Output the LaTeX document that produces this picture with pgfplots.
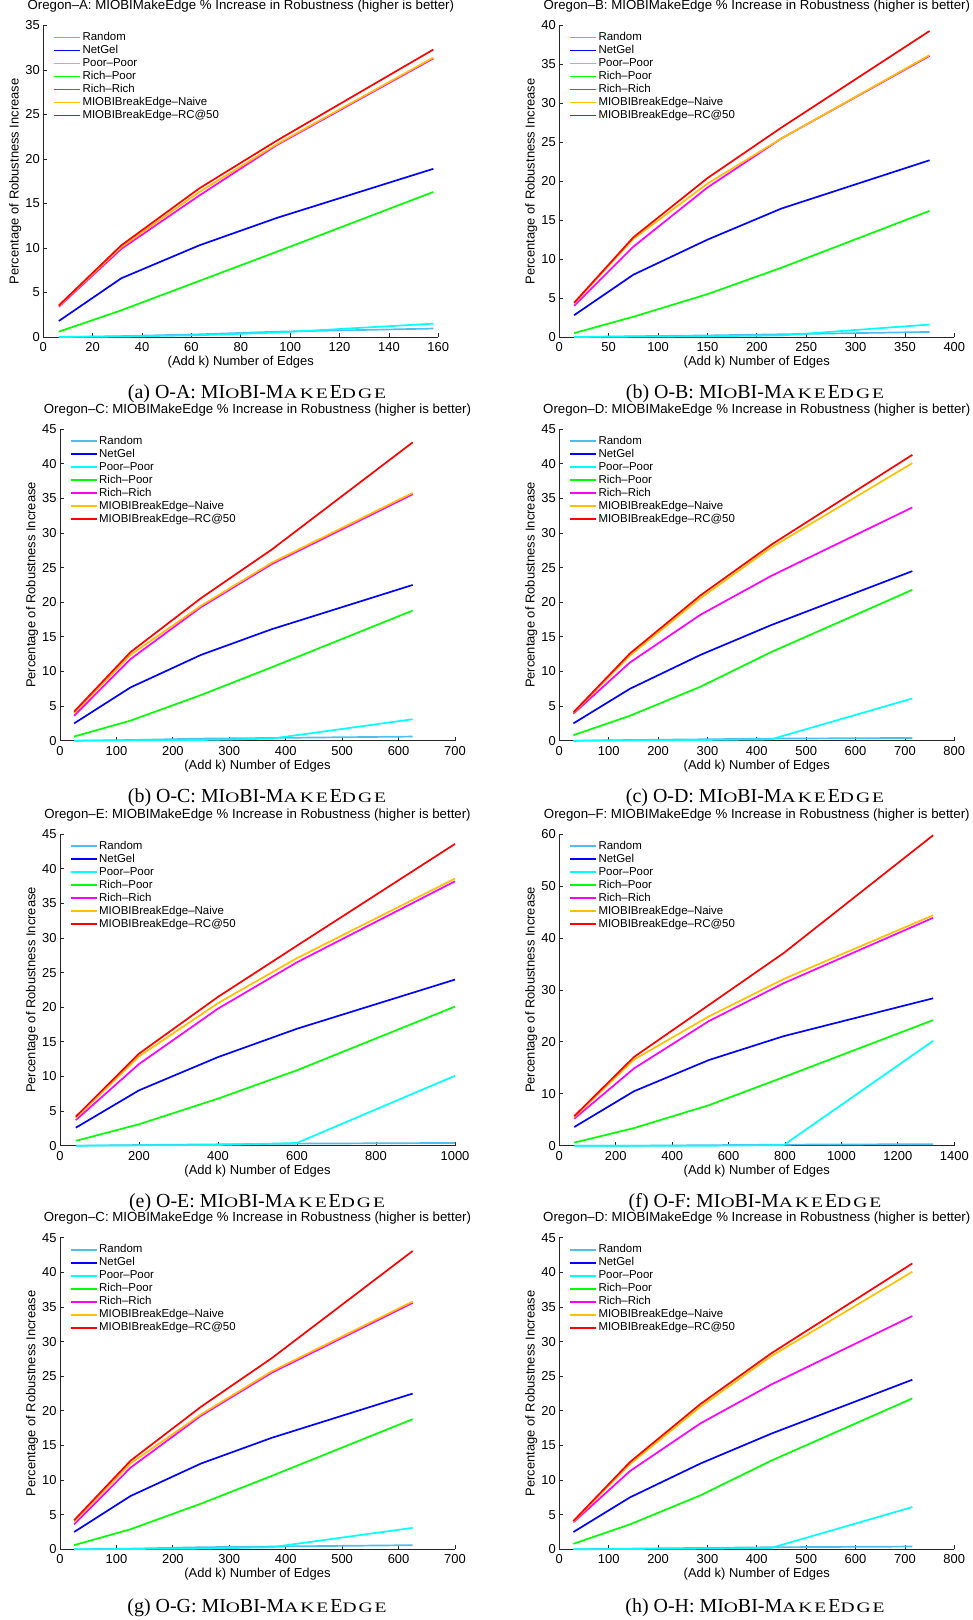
\documentclass[border=0pt]{standalone}
\usepackage{fontspec}
\setmainfont{Liberation Serif}
\newfontfamily\hv{Liberation Sans}
\newfontfamily\scfam[FakeStretch=1.35]{Liberation Serif}
\usepackage{pgfplots}
\usepackage{pgfplotstable}
\pgfplotsset{compat=1.18}

\definecolor{crnd}{RGB}{77,190,238}
\definecolor{cnet}{RGB}{0,0,255}
\definecolor{cpp}{RGB}{0,255,255}
\definecolor{crp}{RGB}{0,255,0}
\definecolor{crr}{RGB}{255,0,255}
\definecolor{cnv}{RGB}{255,192,0}
\definecolor{crc}{RGB}{255,0,0}

\pgfplotstableread{
x rnd net pp rp rr nv rc
6.3 0 1.8 0 0.6 3.4 3.5 3.55
31.6 0.1 6.6 0.05 3.0 9.9 10.1 10.3
63.2 0.3 10.3 0.2 6.3 15.9 16.3 16.7
94.8 0.6 13.4 0.5 9.6 21.6 21.7 22.1
158 0.95 18.9 1.5 16.3 31.3 31.4 32.3
}\dA
\pgfplotstableread{
x rnd net pp rp rr nv rc
15 0 2.8 0 0.5 4.0 4.3 4.4
75 0.1 8.0 0.05 2.6 11.6 12.6 12.8
150 0.2 12.5 0.1 5.5 19.2 19.7 20.4
225 0.35 16.5 0.2 8.9 25.5 25.5 26.9
375 0.65 22.7 1.6 16.2 36.1 36.2 39.3
}\dB
\pgfplotstableread{
x rnd net pp rp rr nv rc
25 0 2.5 0 0.6 3.6 4.0 4.2
125 0.1 7.7 0.05 2.9 11.8 12.4 12.8
250 0.3 12.4 0.1 6.6 19.3 19.5 20.6
375 0.4 16.1 0.3 10.6 25.5 25.7 27.6
625 0.6 22.5 3.1 18.8 35.6 35.8 43.1
}\dC
\pgfplotstableread{
x rnd net pp rp rr nv rc
28.6 0 2.5 0 0.8 3.9 4.0 4.1
143 0.1 7.5 0.05 3.6 11.3 12.3 12.6
286 0.2 12.4 0.1 7.8 18.2 20.6 21.0
429 0.3 16.7 0.2 12.8 23.8 27.9 28.3
715 0.4 24.5 6.1 21.8 33.7 40.1 41.3
}\dD
\pgfplotstableread{
x rnd net pp rp rr nv rc
40 0 2.6 0 0.7 3.7 4.0 4.2
200 0.1 8.0 0.05 3.1 11.8 12.9 13.3
400 0.2 12.8 0.1 6.8 19.8 20.6 21.5
600 0.3 16.9 0.4 10.9 26.5 27.1 28.9
1000 0.4 24.0 10.1 20.1 38.2 38.6 43.6
}\dE
\pgfplotstableread{
x rnd net pp rp rr nv rc
53 0 3.6 0 0.6 5.2 5.5 5.7
265 0 10.5 0 3.4 14.9 16.6 17.1
530 0.1 16.5 0 7.8 24.0 24.9 27.1
795 0.2 21.1 0.1 13.2 31.3 32.1 37.1
1325 0.3 28.4 20.2 24.2 43.9 44.4 59.8
}\dF

\pgfplotsset{
 oregon/.style={
  scale only axis, width=395bp, height=311.5bp,
  axis lines*=left,
  axis line style={-, line width=0.8bp, black!85},
  tick align=inside, major tick length=4bp,
  tick style={line width=0.8bp, black!85},
  xmin=0, ymin=0, clip=false,
  font=\hv\fontsize{13}{15}\selectfont,
  /pgf/number format/assume math mode=true,
  /pgf/number format/1000 sep={},
  scaled ticks=false,
  xticklabel style={yshift=-2bp},
  title style={at={(axis description cs:0.5,1)}, anchor=base, yshift=10bp,
     font=\hv\fontsize{13.3}{15}\selectfont},
  xlabel={(Add k) Number of Edges},
  ylabel={Percentage of Robustness Increase},
  xlabel style={at={(axis description cs:0.5,-0.0803)}, anchor=center},
  ylabel style={at={(axis description cs:-0.0709,0.5)}, anchor=center, rotate=0},
  every axis plot/.append style={line width=1.7bp, mark=none},
  legend cell align=left,
  legend style={draw=none, fill=none, at={(axis description cs:0,1)},
     anchor=north west, xshift=10bp, yshift=-5.5bp,
     inner sep=0pt, outer sep=0pt, row sep=0pt,
     font=\hv\fontsize{11.5}{13}\selectfont,
     nodes={inner xsep=1.5bp, inner ysep=0pt, text height=9.5bp, text depth=3.5bp}},
  legend image code/.code={\draw[#1] (0bp,0bp) -- (26bp,0bp);},
 }
}

\newcommand\plotset[1]{%
 \addplot[crnd] table[x=x,y=rnd]{#1};
 \addplot[cnet] table[x=x,y=net]{#1};
 \addplot[cpp] table[x=x,y=pp]{#1};
 \addplot[crp] table[x=x,y=rp]{#1};
 \addplot[crr] table[x=x,y=rr]{#1};
 \addplot[cnv] table[x=x,y=nv]{#1};
 \addplot[crc] table[x=x,y=rc]{#1};
 \legend{Random,NetGel,Poor–Poor,Rich–Poor,Rich–Rich,MIOBIBreakEdge–Naive,MIOBIBreakEdge–RC@50}
}
\newcommand\scf{\scfam\fontsize{14.5}{16}\selectfont}
\newcommand\capt[1]{#1: MI{\scf O}BI-M{\scf A\kern2bp K\kern2bp E}\kern2bp E{\scf D\kern2bp G\kern2bp E}}
\newcommand\capnode[3]{\node[anchor=base, font=\fontsize{20}{22}\selectfont] at (#1bp,-#2bp) {\capt{#3}};}

\begin{document}
\begin{tikzpicture}
\useasboundingbox (0,0) rectangle (973bp,-1620bp);
% Row 1
\begin{axis}[oregon, at={(43.3bp,-337bp)}, anchor=south west,
  xmax=160, ymax=35, xtick={0,20,...,160}, ytick={0,5,...,35},
  title={Oregon–A: MIOBIMakeEdge \% Increase in Robustness (higher is better)}]
\plotset{\dA}
\end{axis}
\begin{axis}[oregon, at={(559.3bp,-337bp)}, anchor=south west,
  xmax=400, ymax=40, xtick={0,50,...,400}, ytick={0,5,...,40},
  title={Oregon–B: MIOBIMakeEdge \% Increase in Robustness (higher is better)}]
\plotset{\dB}
\end{axis}
% Row 2
\begin{axis}[oregon, at={(60bp,-740.7bp)}, anchor=south west,
  xmax=700, ymax=45, xtick={0,100,...,700}, ytick={0,5,...,45},
  title={Oregon–C: MIOBIMakeEdge \% Increase in Robustness (higher is better)}]
\plotset{\dC}
\end{axis}
\begin{axis}[oregon, at={(559.3bp,-740.7bp)}, anchor=south west,
  xmax=800, ymax=45, xtick={0,100,...,800}, ytick={0,5,...,45},
  title={Oregon–D: MIOBIMakeEdge \% Increase in Robustness (higher is better)}]
\plotset{\dD}
\end{axis}
% Row 3
\begin{axis}[oregon, at={(60bp,-1145.7bp)}, anchor=south west,
  xmax=1000, ymax=45, xtick={0,200,...,1000}, ytick={0,5,...,45},
  title={Oregon–E: MIOBIMakeEdge \% Increase in Robustness (higher is better)}]
\plotset{\dE}
\end{axis}
\begin{axis}[oregon, at={(559.3bp,-1145.7bp)}, anchor=south west,
  xmax=1400, ymax=60, xtick={0,200,...,1400}, ytick={0,10,...,60},
  title={Oregon–F: MIOBIMakeEdge \% Increase in Robustness (higher is better)}]
\plotset{\dF}
\end{axis}
% Row 4
\begin{axis}[oregon, at={(60bp,-1549.3bp)}, anchor=south west,
  xmax=700, ymax=45, xtick={0,100,...,700}, ytick={0,5,...,45},
  title={Oregon–C: MIOBIMakeEdge \% Increase in Robustness (higher is better)}]
\plotset{\dC}
\end{axis}
\begin{axis}[oregon, at={(559.3bp,-1549.3bp)}, anchor=south west,
  xmax=800, ymax=45, xtick={0,100,...,800}, ytick={0,5,...,45},
  title={Oregon–D: MIOBIMakeEdge \% Increase in Robustness (higher is better)}]
\plotset{\dD}
\end{axis}
% Captions
\capnode{257}{398}{(a) O-A}
\capnode{755}{398}{(b) O-B}
\capnode{257}{802}{(b) O-C}
\capnode{755}{802}{(c) O-D}
\capnode{257}{1207}{(e) O-E}
\capnode{755}{1207}{(f) O-F}
\capnode{257}{1612}{(g) O-G}
\capnode{755}{1612}{(h) O-H}
\end{tikzpicture}
\end{document}
